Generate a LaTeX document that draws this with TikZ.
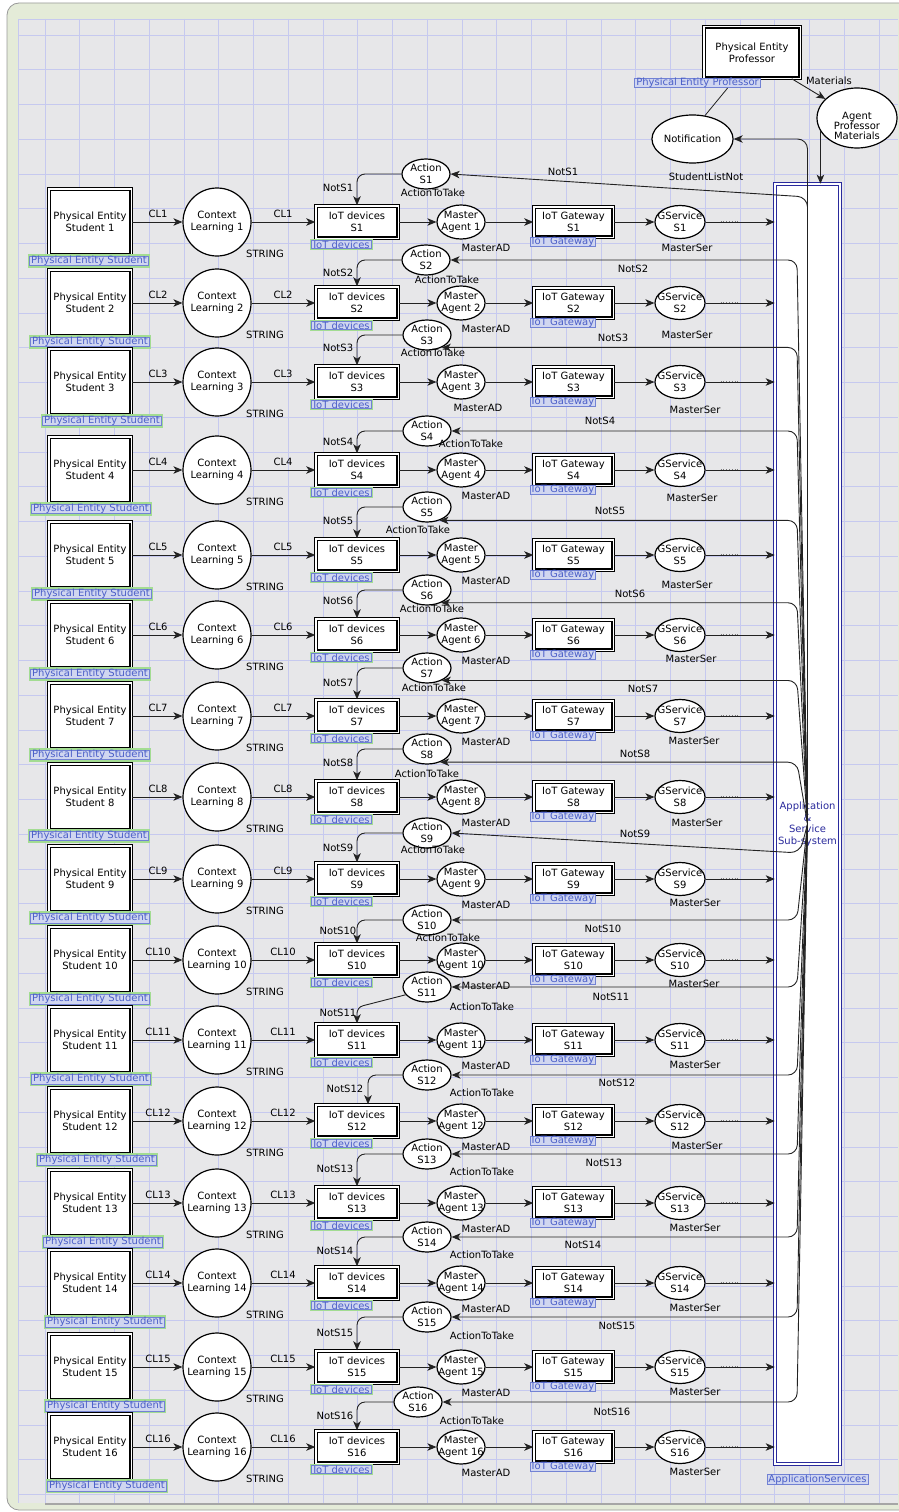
\documentclass[tikz,border=0pt]{standalone}
\usepackage{fontspec}
\setmainfont{DejaVu Sans}
\usetikzlibrary{shapes.geometric,arrows.meta}
\definecolor{gridc}{HTML}{C6C9EF}
\definecolor{bgc}{HTML}{E7E7E9}
\definecolor{framec}{HTML}{E4EBD8}
\definecolor{tagtext}{HTML}{4B5FC8}
\definecolor{tagfill}{HTML}{D0D6F0}
\definecolor{tagdraw}{HTML}{7282D4}
\definecolor{glow}{HTML}{A3DC92}
\definecolor{appblue}{HTML}{2A2A9C}
\definecolor{arcc}{HTML}{222222}
\tikzset{
  every node/.style={font=\fontsize{10}{12}\selectfont},
  dbox/.style={rectangle, draw=black, double=white, double distance=1.4pt, line width=1.1pt, fill=white, inner sep=0pt, align=center},
  cpnplace/.style={ellipse, draw=black, line width=1.2pt, fill=white, inner sep=0pt},
  lbl/.style={inner sep=0pt, text=black},
  cpntag/.style={rectangle, draw=tagdraw, fill=tagfill, text=tagtext, line width=0.7pt, inner xsep=1.5pt, inner ysep=0pt, font=\fontsize{10}{11}\selectfont},
  gtag/.style={cpntag, preaction={draw=glow, line width=3.5pt}},
  cpnarc/.style={draw=arcc, line width=0.9pt, -{Stealth[length=9pt,width=7.5pt,inset=2.5pt]}},
  plainline/.style={draw=arcc, line width=0.8pt},
  dotmark/.style={draw=arcc!60, dotted, line width=0.8pt},
  appbox/.style={rectangle, draw=appblue, double=white, double distance=2.4pt, line width=1pt, fill=white, minimum width=64.6pt, minimum height=1279.6pt, inner sep=0pt, align=center, text=appblue, font=\fontsize{10}{11.5}\selectfont}
}
\begin{document}
\begin{tikzpicture}[x=1pt,y=-1pt]
\useasboundingbox (0,0) rectangle (898,1512);
\fill[white] (0,0) rectangle (898,1512);
\draw[fill=framec, draw=black!40, line width=0.8pt, rounded corners=12pt] (7,3) rectangle (930,1510);
\begin{scope}
\clip (18,19) rectangle (898,1503);
\fill[bgc] (18,19) rectangle (898,1503);
\foreach \k in {0,...,24} \draw[gridc, line width=0.8pt] ({45+34.75*\k},19) -- ({45+34.75*\k},1503);
\foreach \k in {0,...,42} \draw[gridc, line width=0.8pt] (18,{35+34.75*\k}) -- (898,{35+34.75*\k});
\draw[gridc, line width=0.8pt] (18,19.5) -- (898,19.5);
\draw[gridc, line width=0.8pt] (18.5,19) -- (18.5,1503);
\end{scope}
\draw[black!35, line width=1.2pt] (45,1504) -- (898,1504);

% application sub-system
\node[appbox] (app) at (807.5,824) {Application\\\&\\Service\\Sub-system};
\node[cpntag] (apptag) at (817.5,1479.5) {ApplicationServices};
\coordinate (vx) at (797,0);

% professor part
\node[dbox, minimum width=96.4pt, minimum height=51.4pt] (prof) at (752,52.5) {Physical Entity\\Professor};
\node[cpntag] (proftag) at (697.5,83) {Physical Entity Professor};
\node[cpnplace, minimum width=81pt, minimum height=48pt] (notif) at (692.5,139) {Notification};
\node[lbl] (notiftype) at (706,177) {StudentListNot};
\node[cpnplace, minimum width=80pt, minimum height=60pt, label={[align=center, yshift=-8pt, font=\fontsize{10}{10}\selectfont]center:Agent\\Professor\\Materials}] (agent) at (857,118) {};
\node[lbl] (matlbl) at (829,81) {Materials};
\draw[cpnarc] ([xshift=-9pt]prof.south east) -- (agent);
\draw[cpnarc] (agent.200) -- (agent.200 |- app.north);
\draw[cpnarc, rounded corners=10pt] (app.center) -- (app.center |- notif.east) -- (notif.east);
\draw[plainline] (notif.62) -- ([xshift=30pt]proftag.south);

% rows
\foreach \i/\y/\ax/\ay/\tx/\ty/\nlx/\nly/\nrx/\nry/\msx/\msy/\mdx/\ptx in {
1/222/426/174/433/193/338/188/563/172/687/248/486/89,
2/303/426/260/447/280/338/273/633/269/687/335/486/90,
3/382/427/335/433/353/338/348/613/338/695/410/478/102,
4/470/427/431/471/444/338/442/600/421/692/498/486/91,
5/555/427/507/418/530/338/521/610/511/687/585/486/92,
6/635/427/590/432/609/338/601/630/594/691/659/486/90,
7/716/427/668/434/688/338/683/643/689/694/741/486/90,
8/797/427/749/427/774/338/763/635/754/697/823/486/89,
9/879/427/833/433/850/338/848/635/834/695/903/486/90,
10/960/427/920/448/938/338/931/603/929/694/984/486/90,
11/1040/427/987/482/1007/338/1013/611/997/695/1065/486/91,
12/1121/427/1075/482/1093/345/1089/617/1083/697/1146/486/97,
13/1203/427/1154/482/1172/335/1169/604/1163/695/1228/486/103,
14/1283/427/1237/482/1255/335/1251/583/1245/695/1308/486/105,
15/1367/427/1317/482/1336/335/1333/617/1326/695/1392/486/105,
16/1447/418/1402/472/1421/335/1416/612/1412/695/1472/486/107}{
  \node[dbox, minimum width=82.4pt, minimum height=66.4pt] (P\i) at (90,\y) {Physical Entity\\Student \i};
  \node[gtag] (PT\i) at ({\ptx},{\y+39}) {Physical Entity Student};
  \node[cpnplace, circle, minimum size=68pt, label={[align=center]center:Context\\Learning \i}] (C\i) at (217,\y) {};
  \node[lbl] (CLa\i) at (158,{\y-8}) {CL\i};
  \node[lbl] (CLb\i) at (283,{\y-8}) {CL\i};
  \node[lbl] (ST\i) at (265,{\y+32}) {STRING};
  \node[dbox, minimum width=82.4pt, minimum height=32.4pt] (I\i) at (357,\y) {IoT devices\\S\i};
  \node[gtag] (IT\i) at (341.5,{\y+22.5}) {IoT devices};
  \node[cpnplace, minimum width=48pt, minimum height=34pt, label={[align=center]center:Master\\Agent \i}] (M\i) at (461,\y) {};
  \node[lbl] (MAD\i) at (\mdx,{\y+26}) {MasterAD};
  \node[dbox, minimum width=79.4pt, minimum height=30.4pt] (G\i) at (573.5,\y) {IoT Gateway\\S\i};
  \node[cpntag] (GT\i) at (563,{\y+20}) {IoT Gateway};
  \node[cpnplace, minimum width=50pt, minimum height=33pt, label={[align=center]center:GService\\S\i}] (S\i) at (680,\y) {};
  \node[lbl] (MS\i) at (\msx,\msy) {MasterSer};
  \node[cpnplace, minimum width=48pt, minimum height=30pt, label={[align=center]center:Action\\S\i}] (A\i) at (\ax,\ay) {};
  \node[lbl] (AT\i) at (\tx,\ty) {ActionToTake};
  \node[lbl] (NL\i) at (\nlx,\nly) {NotS\i};
  \node[lbl] (NR\i) at (\nrx,\nry) {NotS\i};
  \draw[cpnarc] (P\i) -- (C\i);
  \draw[cpnarc] (C\i) -- (I\i);
  \draw[cpnarc] (I\i) -- (M\i);
  \draw[cpnarc] (M\i) -- (G\i);
  \draw[cpnarc] (G\i) -- (S\i);
  \draw[cpnarc] (S\i) -- (S\i -| app.west);
  \draw[dotmark] ([xshift=15pt,yshift=1pt]S\i.east) -- ++(17,0);
}

% application -> action arcs
\draw[cpnarc, rounded corners=10pt] (app.center) -- (app.center |- 0,197) -- (A1.east);
\draw[cpnarc, rounded corners=10pt] (app.center) -- (800,853) -- (A9.east);
\foreach \i/\ang in {2/0,3/-40,4/0,5/-47,6/-42,7/-40,8/-45,10/0,11/0,12/0,13/0,14/0,15/0,16/0}
  \draw[cpnarc, rounded corners=9pt] (app.center) -- (A\i.\ang -| vx) -- (A\i.\ang);

% action -> IoT devices arcs
\foreach \i in {1,2,3,4,5,6,7,8,9,10,13,14,15,16}
  \draw[cpnarc, rounded corners=8pt] (A\i.west) -| (I\i.north);
\draw[cpnarc, rounded corners=6pt] (A11.200) -- ([yshift=16pt]I11.north) -- (I11.north);
\draw[cpnarc, rounded corners=8pt] (A12.west) -| ([xshift=11pt]I12.north);
\end{tikzpicture}
\end{document}
